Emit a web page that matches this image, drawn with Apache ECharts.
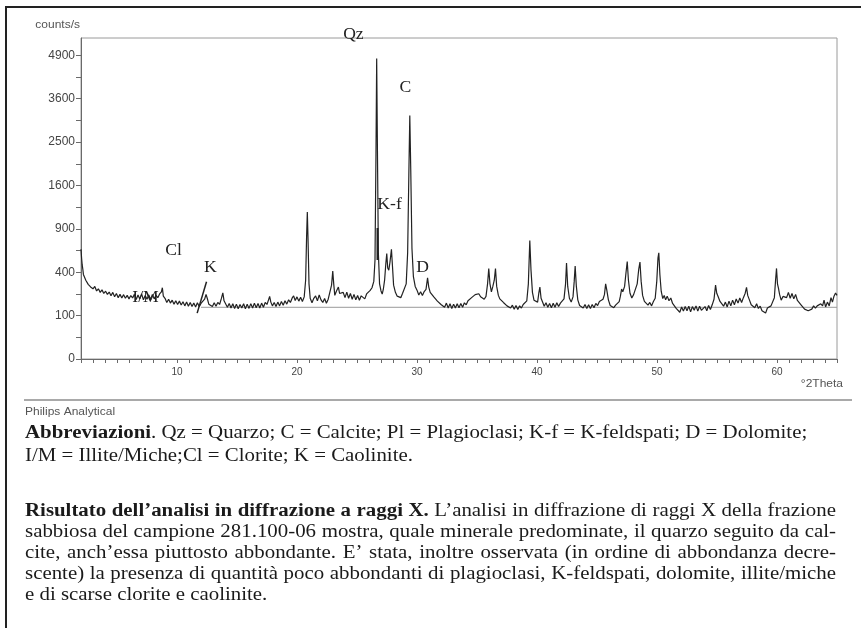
<!DOCTYPE html>
<html>
<head>
<meta charset="utf-8">
<script src="https://cdn.jsdelivr.net/npm/echarts@6/dist/echarts.min.js"></script>
<style>
  html, body { margin: 0; padding: 0; background: #fff; }
  #xrd-chart { width: 861px; height: 628px; }
</style>
</head>
<body>
<div id="xrd-chart"></div>
<script>
// diffrattogramma: [2theta, counts/s]
const profile = [
  [2.00, 640], [2.05, 540], [2.10, 470], [2.15, 430], [2.20, 380], [2.30, 372], [2.40, 330], [2.50, 326],
  [2.60, 296], [2.70, 304], [2.80, 276], [2.90, 290], [3.00, 262], [3.15, 280], [3.30, 246], [3.45, 262],
  [3.60, 236], [3.75, 254], [3.90, 228], [4.05, 244], [4.20, 222], [4.35, 238], [4.50, 212], [4.65, 236],
  [4.80, 206], [4.95, 228], [5.10, 200], [5.25, 222], [5.40, 198], [5.55, 220], [5.70, 196], [5.85, 215],
  [6.00, 192], [6.15, 214], [6.30, 198], [6.45, 222], [6.60, 188], [6.75, 218], [6.90, 192], [7.05, 225],
  [7.20, 186], [7.35, 214], [7.50, 190], [7.65, 218], [7.80, 188], [7.95, 222], [8.10, 192], [8.25, 215],
  [8.40, 200], [8.55, 225], [8.70, 240], [8.78, 270], [8.86, 210], [9.00, 196], [9.15, 170], [9.30, 190],
  [9.45, 166], [9.60, 184], [9.75, 160], [9.90, 180], [10.05, 158], [10.20, 178], [10.35, 155], [10.50, 174],
  [10.65, 150], [10.80, 172], [10.95, 148], [11.10, 170], [11.25, 146], [11.40, 166], [11.55, 144], [11.70, 168],
  [11.85, 146], [12.00, 164], [12.15, 158], [12.30, 190], [12.42, 222], [12.52, 196], [12.65, 160], [12.80, 170],
  [12.95, 146], [13.10, 168], [13.25, 148], [13.40, 170], [13.55, 158], [13.70, 195], [13.82, 232], [13.92, 180],
  [14.05, 168], [14.20, 142], [14.35, 164], [14.50, 138], [14.65, 162], [14.80, 136], [14.95, 160], [15.10, 134],
  [15.25, 158], [15.40, 138], [15.55, 162], [15.70, 134], [15.85, 160], [16.00, 136], [16.15, 163], [16.30, 138],
  [16.45, 166], [16.60, 140], [16.75, 164], [16.90, 138], [17.05, 166], [17.20, 142], [17.35, 170], [17.50, 158],
  [17.62, 184], [17.72, 208], [17.82, 172], [17.95, 150], [18.10, 170], [18.25, 146], [18.40, 172], [18.55, 150],
  [18.70, 176], [18.85, 154], [19.00, 180], [19.15, 160], [19.30, 186], [19.45, 170], [19.60, 198], [19.72, 212],
  [19.85, 182], [20.00, 205], [20.15, 178], [20.30, 202], [20.45, 176], [20.60, 205], [20.72, 330], [20.80, 800],
  [20.86, 1150], [20.92, 760], [21.00, 300], [21.10, 196], [21.25, 168], [21.40, 196], [21.55, 212], [21.70, 180],
  [21.85, 218], [22.00, 186], [22.15, 170], [22.30, 194], [22.45, 165], [22.60, 190], [22.75, 200], [22.88, 290],
  [22.98, 410], [23.06, 300], [23.15, 215], [23.30, 248], [23.45, 275], [23.55, 228], [23.70, 222], [23.85, 236],
  [24.00, 200], [24.15, 238], [24.30, 196], [24.45, 228], [24.60, 190], [24.75, 222], [24.90, 186], [25.05, 214],
  [25.20, 184], [25.35, 212], [25.50, 222], [25.65, 192], [25.80, 225], [25.95, 228], [26.10, 250], [26.25, 270],
  [26.40, 320], [26.50, 520], [26.58, 2200], [26.64, 4800], [26.70, 2400], [26.78, 600], [26.88, 300], [27.00, 246],
  [27.10, 224], [27.20, 262], [27.30, 330], [27.40, 480], [27.48, 590], [27.56, 440], [27.65, 420], [27.75, 500],
  [27.87, 640], [27.95, 470], [28.05, 290], [28.20, 236], [28.35, 210], [28.50, 214], [28.65, 200], [28.80, 230],
  [28.95, 236], [29.10, 300], [29.22, 600], [29.32, 1800], [29.40, 3150], [29.48, 1900], [29.58, 650], [29.70, 360],
  [29.85, 280], [30.00, 252], [30.15, 218], [30.30, 240], [30.45, 214], [30.60, 242], [30.75, 258], [30.88, 350],
  [30.98, 275], [31.10, 236], [31.25, 240], [31.40, 205], [31.55, 206], [31.70, 178], [31.85, 184], [32.00, 158],
  [32.15, 168], [32.30, 142], [32.45, 166], [32.60, 138], [32.75, 162], [32.90, 136], [33.05, 160], [33.20, 138],
  [33.35, 162], [33.50, 140], [33.65, 164], [33.80, 142], [33.95, 168], [34.10, 156], [34.25, 180], [34.40, 174],
  [34.55, 200], [34.70, 196], [34.85, 220], [35.00, 212], [35.15, 226], [35.30, 206], [35.45, 210], [35.60, 190],
  [35.75, 208], [35.88, 300], [35.98, 435], [36.08, 300], [36.20, 240], [36.32, 280], [36.44, 330], [36.54, 435],
  [36.64, 280], [36.78, 215], [36.90, 192], [37.05, 198], [37.20, 170], [37.35, 176], [37.50, 150], [37.65, 160],
  [37.80, 138], [37.95, 154], [38.10, 132], [38.25, 152], [38.40, 130], [38.55, 150], [38.70, 138], [38.85, 158],
  [39.00, 152], [39.15, 180], [39.28, 300], [39.40, 745], [39.50, 420], [39.62, 236], [39.75, 184], [39.90, 180],
  [40.05, 172], [40.15, 230], [40.24, 275], [40.34, 196], [40.48, 170], [40.60, 148], [40.75, 168], [40.90, 142],
  [41.05, 164], [41.20, 140], [41.35, 165], [41.50, 142], [41.65, 168], [41.80, 146], [41.95, 166], [42.10, 160],
  [42.25, 192], [42.38, 300], [42.46, 490], [42.56, 280], [42.70, 196], [42.85, 172], [43.00, 205], [43.10, 320],
  [43.18, 460], [43.28, 280], [43.40, 186], [43.55, 152], [43.70, 160], [43.85, 138], [44.00, 158], [44.15, 136],
  [44.30, 157], [44.45, 136], [44.60, 158], [44.75, 140], [44.90, 164], [45.05, 152], [45.20, 176], [45.35, 166],
  [45.50, 190], [45.62, 220], [45.72, 300], [45.82, 250], [45.95, 186], [46.10, 152], [46.25, 160], [46.40, 140],
  [46.55, 154], [46.70, 145], [46.85, 175], [46.95, 210], [47.05, 260], [47.15, 240], [47.30, 280], [47.42, 400],
  [47.52, 505], [47.62, 330], [47.75, 230], [47.90, 198], [48.05, 220], [48.20, 218], [48.35, 300], [48.48, 430],
  [48.58, 500], [48.68, 320], [48.80, 215], [48.95, 176], [49.10, 178], [49.25, 154], [49.40, 170], [49.55, 150],
  [49.70, 176], [49.85, 196], [49.98, 320], [50.08, 540], [50.15, 600], [50.24, 380], [50.35, 244], [50.48, 194],
  [50.60, 214], [50.72, 186], [50.85, 210], [51.00, 180], [51.15, 198], [51.30, 164], [51.45, 166], [51.60, 136],
  [51.75, 142], [51.90, 116], [52.05, 144], [52.20, 122], [52.35, 146], [52.50, 124], [52.65, 148], [52.80, 118],
  [52.95, 146], [53.10, 126], [53.25, 150], [53.40, 122], [53.55, 148], [53.70, 126], [53.85, 116], [54.00, 146],
  [54.15, 124], [54.30, 152], [54.45, 130], [54.60, 156], [54.75, 190], [54.88, 290], [54.98, 230], [55.10, 206],
  [55.25, 176], [55.40, 178], [55.55, 148], [55.70, 172], [55.85, 144], [56.00, 178], [56.15, 150], [56.30, 184],
  [56.45, 156], [56.60, 192], [56.75, 166], [56.90, 198], [57.05, 170], [57.20, 200], [57.35, 230], [57.46, 272],
  [57.56, 215], [57.70, 186], [57.85, 156], [58.00, 166], [58.15, 140], [58.30, 162], [58.45, 136], [58.60, 148],
  [58.75, 124], [58.90, 132], [59.05, 112], [59.20, 138], [59.35, 130], [59.50, 150], [59.65, 156], [59.78, 200],
  [59.88, 330], [59.96, 436], [60.04, 300], [60.12, 267], [60.22, 220], [60.35, 184], [60.50, 208], [60.65, 218],
  [60.80, 200], [60.95, 236], [61.10, 196], [61.25, 228], [61.40, 192], [61.55, 222], [61.70, 182], [61.85, 186],
  [62.00, 156], [62.15, 158], [62.30, 132], [62.45, 136], [62.60, 124], [62.75, 130], [62.90, 132], [63.05, 150],
  [63.20, 138], [63.35, 150], [63.50, 145], [63.65, 162], [63.80, 150], [63.92, 184], [64.05, 144], [64.20, 172],
  [64.35, 150], [64.50, 200], [64.62, 172], [64.75, 210], [64.88, 232], [65.00, 215]
];

// linea di fondo
const baseline = [[12, 142], [65, 142]];

// tacche asse y (counts/s, scala a radice quadrata)
const yTickCounts = [0, 100, 400, 900, 1600, 2500, 3600, 4900];
const xTickLabels = [10, 20, 30, 40, 50, 60];

// etichette dei picchi: [testo, 2theta, counts]
const peakLabels = [
  ['Qz', 24.7, 5600],
  ['C', 29.04, 3903],
  ['K-f', 27.71, 1260],
  ['Cl', 9.71, 620],
  ['K', 12.79, 440],
  ['I/M', 7.38, 198],
  ['D', 30.46, 440]
];

const captionAbbrev = [
  '{b|Abbreviazioni}. Qz = Quarzo; C = Calcite; Pl = Plagioclasi; K-f = K-feldspati; D = Dolomite;',
  'I/M = Illite/Miche;Cl = Clorite; K = Caolinite.'
];
const captionResult = [
  [['Risultato dell’analisi in diffrazione a raggi X.', true], ['L’analisi in diffrazione di raggi X della frazione', false]],
  [['sabbiosa del campione 281.100-06 mostra, quale minerale predominate, il quarzo seguito da cal-', false]],
  [['cite, anch’essa piuttosto abbondante. E’ stata, inoltre osservata (in ordine di abbondanza decre-', false]],
  [['scente) la presenza di quantità poco abbondanti di plagioclasi, K-feldspati, dolomite, illite/miche', false]],
  [['e di scarse clorite e caolinite.', false]]
];

const SERIF = '"Liberation Serif", "Times New Roman", serif';
const SANS = '"Liberation Sans", Arial, sans-serif';

const sq = (p) => [p[0], Math.sqrt(p[1])];

// tacche: valori principali + intermedie (scala sqrt)
const yMajor = yTickCounts.map(Math.sqrt);
const yTicks = [];
yMajor.forEach((v, i) => {
  yTicks.push(v);
  if (i < yMajor.length - 1) yTicks.push((v + yMajor[i + 1]) / 2);
});
const xTicks = [];
for (let t = 2; t <= 65; t++) xTicks.push(t);

const chart = echarts.init(document.getElementById('xrd-chart'));

chart.setOption({
  animation: false,
  backgroundColor: '#fff',
  grid: {
    left: 81, top: 38, right: 24, bottom: 269,
    show: true, borderColor: '#9a9a9a', borderWidth: 1
  },
  xAxis: {
    type: 'value', min: 2, max: 65,
    axisLine: { lineStyle: { color: '#6a6a6a', width: 1 } },
    axisTick: { customValues: xTicks, length: 4, lineStyle: { color: '#6a6a6a' } },
    axisLabel: { customValues: xTickLabels, fontSize: 10, fontFamily: SANS, color: '#444', margin: 8 },
    splitLine: { show: false }
  },
  yAxis: {
    type: 'value', min: 0, max: 74,
    axisLine: { show: true, lineStyle: { color: '#6a6a6a', width: 1 } },
    axisTick: { show: true, customValues: yTicks, length: 5, lineStyle: { color: '#6a6a6a' } },
    axisLabel: {
      customValues: yMajor, fontSize: 12, fontFamily: SANS, color: '#444', margin: 6,
      formatter: (v) => String(Math.round(v * v))
    },
    splitLine: { show: false }
  },
  series: [
    {
      type: 'line', data: baseline.map(sq), showSymbol: false, silent: true,
      lineStyle: { color: '#9a9a9a', width: 1 }, z: 2
    },
    {
      type: 'line', data: profile.map(sq), showSymbol: false, silent: true,
      lineStyle: { color: '#222', width: 1.2 }, z: 3
    }
  ]
});

const px = (t, c) => chart.convertToPixel({ gridIndex: 0 }, [t, Math.sqrt(c)]);

const graphics = [];

// cornice esterna
graphics.push({
  type: 'rect', shape: { x: 6, y: 7, width: 900, height: 700 },
  style: { fill: 'none', stroke: '#222', lineWidth: 2 }, silent: true
});

// nomi assi (testo un po' allargato come nell'originale)
graphics.push({
  type: 'text', x: 80, y: 25, scaleX: 1.2,
  style: { text: 'counts/s', x: 0, y: 0, align: 'right', verticalAlign: 'middle', font: '10px ' + SANS, fill: '#555' }
});
graphics.push({
  type: 'text', x: 843, y: 384, scaleX: 1.2,
  style: { text: '°2Theta', x: 0, y: 0, align: 'right', verticalAlign: 'middle', font: '10px ' + SANS, fill: '#555' }
});

// etichette dei picchi
peakLabels.forEach(([txt, t, c]) => {
  const p = px(t, c);
  graphics.push({
    type: 'text', z: 10, x: p[0], y: p[1], scaleX: 1.1,
    style: { text: txt, x: 0, y: 0, align: 'center', verticalAlign: 'middle', font: '16px ' + SERIF, fill: '#222' }
  });
});

// segni: trattino obliquo della caolinite e barretta K-f
const k1 = px(11.68, 112), k2 = px(12.46, 317);
graphics.push({ type: 'line', z: 10, shape: { x1: k1[0], y1: k1[1], x2: k2[0], y2: k2[1] },
  style: { stroke: '#222', lineWidth: 1.5 } });
const f1 = px(26.71, 912), f2 = px(26.71, 521);
graphics.push({ type: 'line', z: 10, shape: { x1: f1[0], y1: f1[1], x2: f2[0], y2: f2[1] },
  style: { stroke: '#222', lineWidth: 2 } });

// separatore e didascalia strumento
graphics.push({ type: 'line', shape: { x1: 24, y1: 400, x2: 852, y2: 400 },
  style: { stroke: '#555', lineWidth: 1.2 } });
graphics.push({
  type: 'text', x: 25, y: 412, scaleX: 1.2,
  style: { text: 'Philips Analytical', x: 0, y: 0, verticalAlign: 'middle', font: '10px ' + SANS, fill: '#555' }
});

// testo della didascalia, leggermente allargato in orizzontale
const capFont = 18;
const capScale = 1.16;
const left = 25, right = 836;
const capChildren = [];

captionAbbrev.forEach((line, i) => {
  capChildren.push({
    type: 'text',
    style: {
      text: line, x: 0, y: 433 + i * 23, verticalAlign: 'middle',
      fontSize: capFont, fontFamily: SERIF, fill: '#1a1a1a',
      rich: { b: { fontSize: capFont, fontFamily: SERIF, fontWeight: 'bold', fill: '#1a1a1a' } }
    }
  });
});

// paragrafo giustificato: parola per parola
const measure = document.createElement('canvas').getContext('2d');
const span = (right - left) / capScale;
captionResult.forEach((line, i) => {
  const y = 511 + i * 21;
  const words = [];
  line.forEach(([txt, bold]) => txt.split(' ').forEach((w) => { if (w) words.push([w, bold]); }));
  const fontOf = (bold) => (bold ? 'bold ' : '') + capFont + 'px ' + SERIF;
  const widths = words.map(([w, bold]) => { measure.font = fontOf(bold); return measure.measureText(w).width; });
  const total = widths.reduce((a, b) => a + b, 0);
  const justify = i < captionResult.length - 1;
  measure.font = fontOf(false);
  const gap = justify ? (span - total) / (words.length - 1) : measure.measureText(' ').width;
  let x = 0;
  words.forEach(([w, bold], k) => {
    capChildren.push({
      type: 'text',
      style: { text: w, x: x, y: y, verticalAlign: 'middle', font: fontOf(bold), fill: '#1a1a1a' }
    });
    x += widths[k] + gap;
  });
});

graphics.push({ type: 'group', x: left, y: 0, scaleX: capScale, children: capChildren });

chart.setOption({ graphic: graphics });
</script>
</body>
</html>
